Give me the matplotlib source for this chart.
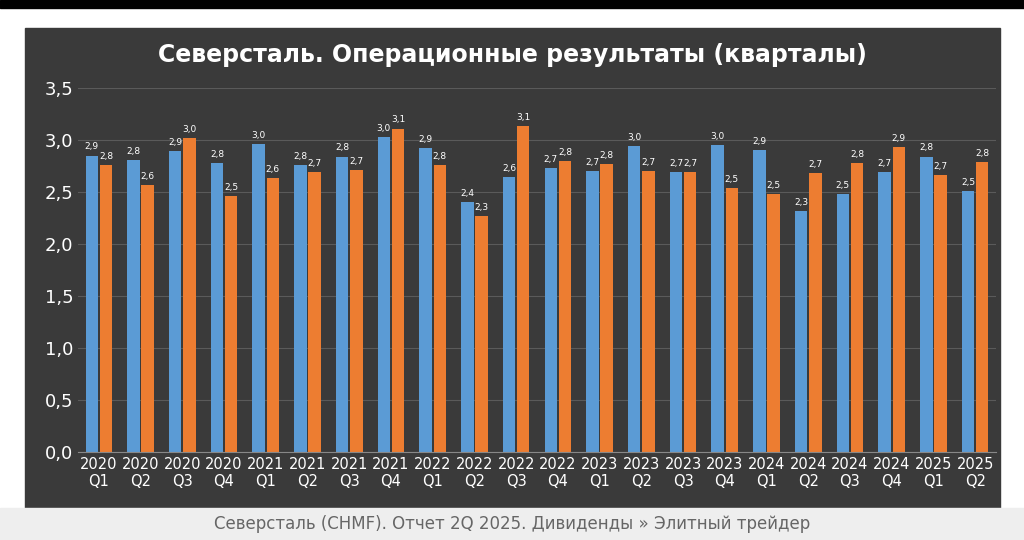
import matplotlib
matplotlib.use("Agg")
import matplotlib.pyplot as plt
import numpy as np

years = ["2020","2020","2020","2020","2021","2021","2021","2021","2022","2022","2022","2022",
         "2023","2023","2023","2023","2024","2024","2024","2024","2025","2025"]
quarters = ["Q1","Q2","Q3","Q4"]*5 + ["Q1","Q2"]
blue = [2.85,2.81,2.89,2.78,2.96,2.76,2.84,3.03,2.92,2.40,2.64,2.73,2.70,2.94,2.69,2.95,2.90,2.32,2.48,2.69,2.84,2.51]
orange = [2.76,2.57,3.02,2.46,2.63,2.69,2.71,3.11,2.76,2.27,3.13,2.80,2.77,2.70,2.69,2.54,2.48,2.68,2.78,2.93,2.66,2.79]
blue_lbl = ["2,9","2,8","2,9","2,8","3,0","2,8","2,8","3,0","2,9","2,4","2,6","2,7","2,7","3,0","2,7","3,0","2,9","2,3","2,5","2,7","2,8","2,5"]
orange_lbl = ["2,8","2,6","3,0","2,5","2,6","2,7","2,7","3,1","2,8","2,3","3,1","2,8","2,8","2,7","2,7","2,5","2,5","2,7","2,8","2,9","2,7","2,8"]

W, H = 1024, 540
fig = plt.figure(figsize=(W/100, H/100), dpi=100, facecolor="white")
bg = fig.add_axes([0, 0, 1, 1], zorder=-10)
bg.set_xlim(0, W); bg.set_ylim(H, 0); bg.axis("off")
bg.add_patch(plt.Rectangle((0, 0), W, 8, color="black"))
bg.add_patch(plt.Rectangle((25, 28), 975, 480, color="#3a3a3a"))
bg.add_patch(plt.Rectangle((0, 508), W, 32, color="#eeeeee"))
bg.text(512, 524, "Северсталь (CHMF). Отчет 2Q 2025. Дивиденды » Элитный трейдер",
        ha="center", va="center", fontsize=12, color="#666666")
bg.text(512, 55, "Северсталь. Операционные результаты (кварталы)", ha="center", va="center",
        fontsize=17, fontweight="bold", color="white")

ax = fig.add_axes([78/W, 1-452/H, 918/W, 364/H])
ax.set_facecolor("none")
x = np.arange(len(years))
bw = 0.3
off = 0.17
ax.bar(x-off, blue, bw, color="#5b9bd5")
ax.bar(x+off, orange, bw, color="#ed7d31")
for i in range(len(x)):
    ax.text(x[i]-off, blue[i]+0.04, blue_lbl[i], ha="center", va="bottom", fontsize=6.5, color="white")
    ax.text(x[i]+off, orange[i]+0.04, orange_lbl[i], ha="center", va="bottom", fontsize=6.5, color="white")
ax.set_ylim(0, 3.5)
ax.set_xlim(-0.5, len(x)-0.5)
yt = np.arange(0, 3.51, 0.5)
ax.set_yticks(yt)
ax.set_yticklabels([f"{v:.1f}".replace(".", ",") for v in yt], fontsize=13, color="white")
ax.set_xticks(x)
ax.set_xticklabels([f"{y}\n{q}" for y, q in zip(years, quarters)], fontsize=10.5, color="white")
ax.grid(axis="y", color="#5a5a5a", lw=0.8)
ax.set_axisbelow(True)
for s in ["top", "right", "left"]:
    ax.spines[s].set_visible(False)
ax.spines["bottom"].set_color("#888888")
ax.tick_params(length=0)
fig.savefig("out.png", dpi=100, facecolor=fig.get_facecolor())
